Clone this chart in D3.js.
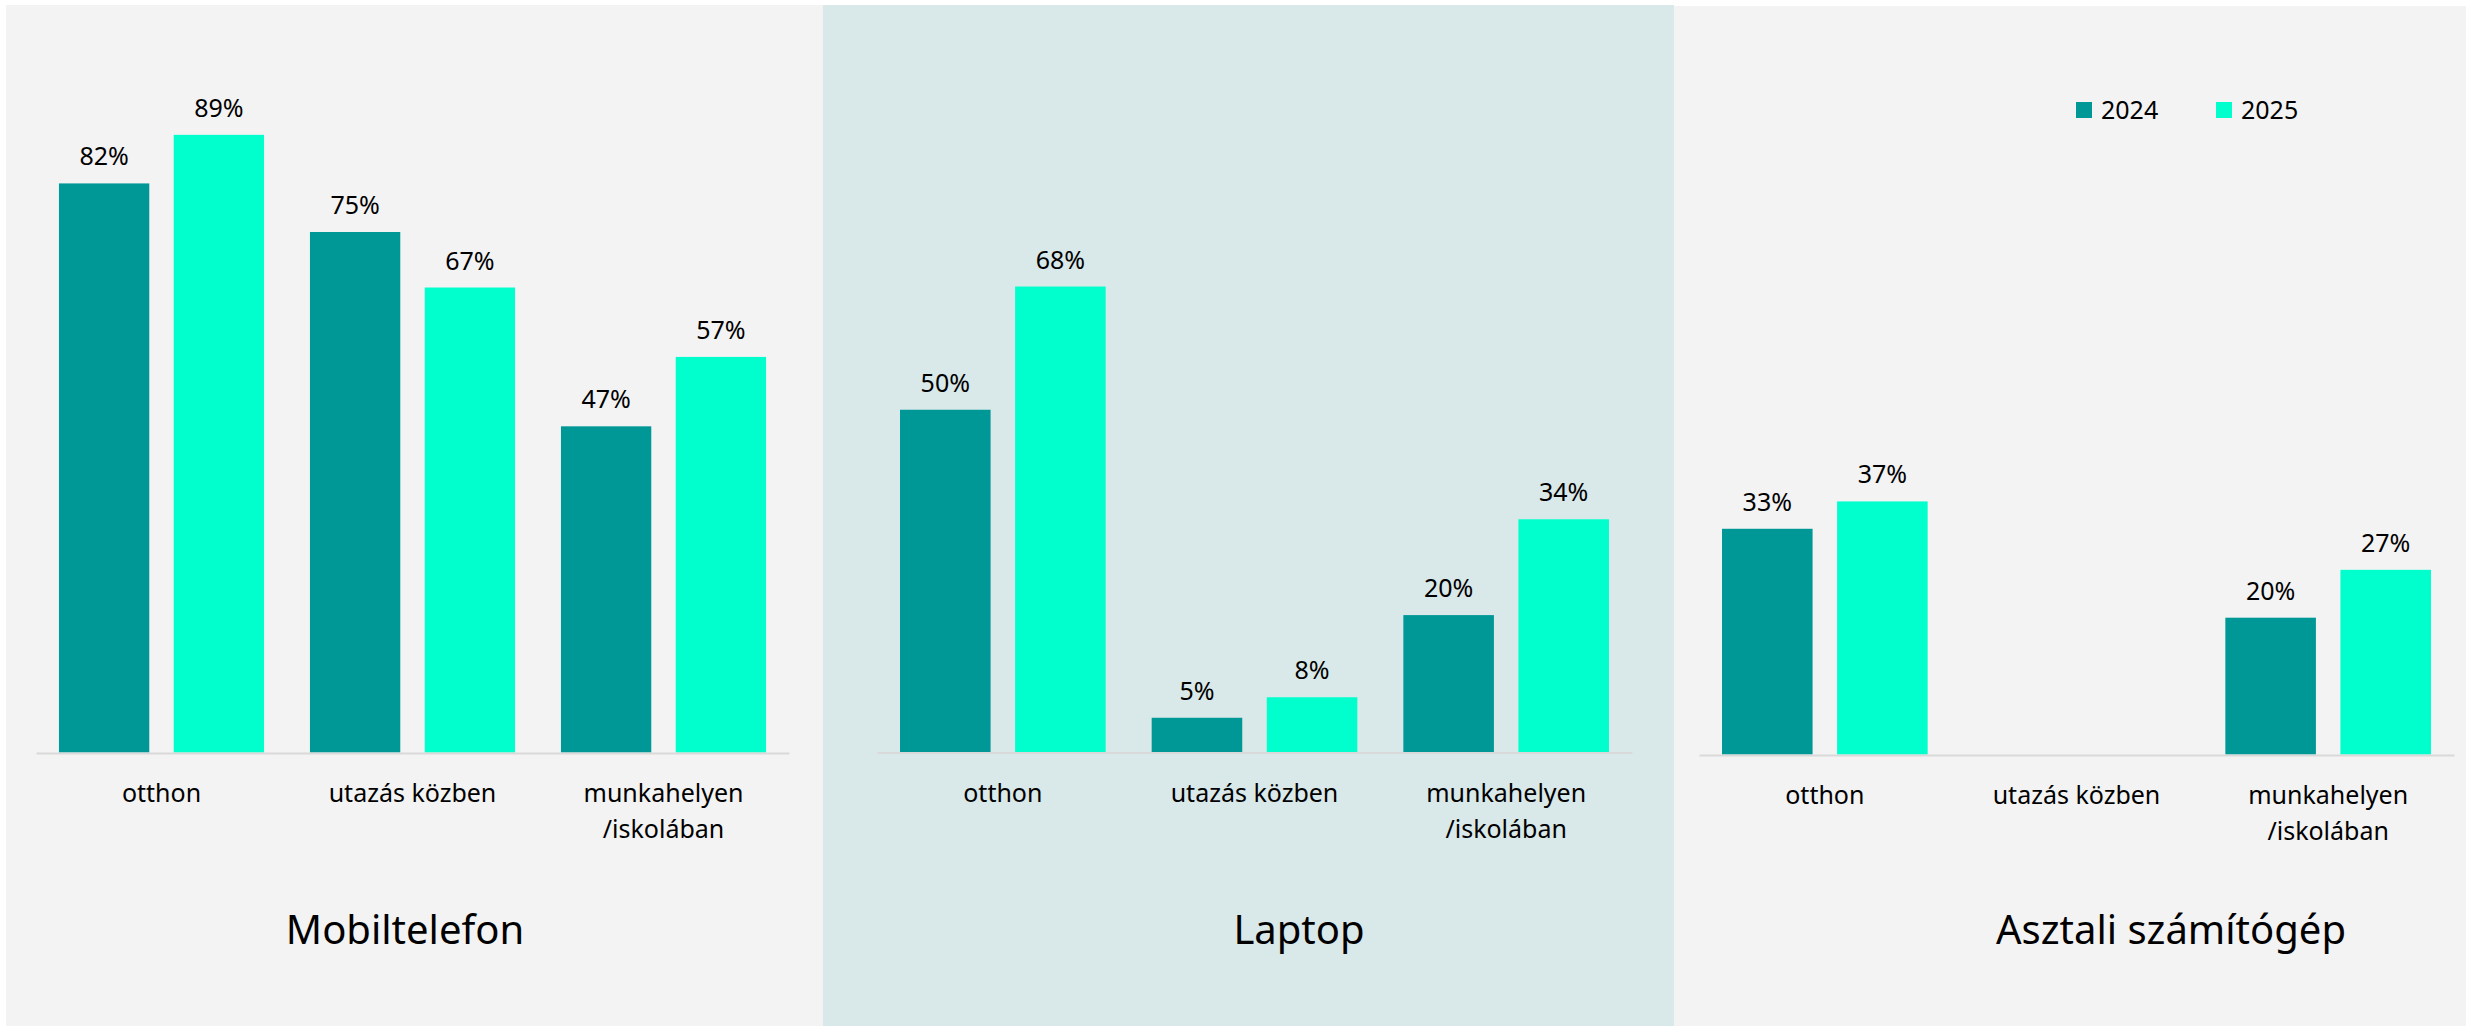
<!DOCTYPE html>
<html>
<head>
<meta charset="utf-8">
<script src="https://cdn.jsdelivr.net/npm/d3@7"></script>
<style>
  body { margin: 0; background: #fff; }
  svg { display: block; font-family: "Segoe UI", "Noto Sans", "Open Sans", sans-serif; }
</style>
</head>
<body>
<div id="chart"></div>
<script>
// data
var devices = ["Mobiltelefon", "Laptop", "Asztali számítógép"];
var categories = ["otthon", "utazás közben", "munkahelyen\n/iskolában"];
var years = ["2024", "2025"];
// per device: [otthon, utazás közben, munkahelyen/iskolában]
var values2024 = [[82, 75, 47], [50, 5, 20], [33, null, 20]];
var values2025 = [[89, 67, 57], [68, 8, 34], [37, null, 27]];

var colors = { "2024": "#009797", "2025": "#00ffcc" };

// layout of the three panels (pixels)
var panels = [
  { x: 6,    y: 5, w: 817, bg: "#f3f3f3", ax0: 36,   ax1: 789,  base: 752.5, top: 58.5, titleX: 405 },
  { x: 823,  y: 5, w: 851, bg: "#d9e8e8", ax0: 877,  ax1: 1632, base: 752,   top: 67.5, titleX: 1299 },
  { x: 1674, y: 6, w: 792, bg: "#f3f3f3", ax0: 1699, ax1: 2454, base: 754.5, top: 70.5, titleX: 2171 }
];

var W = 2466, H = 1026;
var svg = d3.select("#chart").append("svg").attr("width", W).attr("height", H);

panels.forEach(function(p, i) {
  svg.append("rect")
    .attr("x", p.x).attr("y", p.y)
    .attr("width", p.w).attr("height", H - p.y)
    .attr("fill", p.bg);

  var x0 = d3.scaleBand().domain(categories).range([p.ax0, p.ax1]).padding(0);
  var x1 = d3.scaleBand().domain(years).range([0, x0.bandwidth()])
    .paddingInner(0.213).paddingOuter(0.2);
  var y = d3.scaleLinear().domain([0, 100]).range([p.base, p.top]);

  var rows = [];
  categories.forEach(function(c, j) {
    rows.push({ cat: c, year: "2024", v: values2024[i][j] });
    rows.push({ cat: c, year: "2025", v: values2025[i][j] });
  });
  rows = rows.filter(function(d) { return d.v != null; });

  var g = svg.append("g");

  g.selectAll("rect.bar").data(rows).enter().append("rect")
    .attr("class", "bar")
    .attr("x", function(d) { return x0(d.cat) + x1(d.year); })
    .attr("width", x1.bandwidth())
    .attr("y", function(d) { return y(d.v); })
    .attr("height", function(d) { return y(0) - y(d.v); })
    .attr("fill", function(d) { return colors[d.year]; });

  g.selectAll("text.val").data(rows).enter().append("text")
    .attr("class", "val")
    .attr("x", function(d) { return x0(d.cat) + x1(d.year) + x1.bandwidth() / 2; })
    .attr("y", function(d) { return y(d.v) - 18; })
    .attr("text-anchor", "middle")
    .attr("font-size", 25)
    .attr("fill", "#000")
    .text(function(d) { return d.v + "%"; });

  // x axis
  var axis = g.append("g")
    .attr("transform", "translate(0," + (p.base + 0.5) + ")")
    .call(d3.axisBottom(x0).tickSize(0).tickSizeOuter(0))
    .attr("font-family", null)
    .attr("font-size", 25);
  axis.select(".domain").attr("stroke", "#d9d9d9").attr("stroke-width", 2);
  axis.selectAll(".tick text").each(function(d) {
    var t = d3.select(this);
    t.text(null).attr("y", 0).attr("dy", null).attr("fill", "#000");
    d.split("\n").forEach(function(line, k) {
      t.append("tspan").attr("x", 0).attr("y", 49 + k * 36).text(line);
    });
  });

  // panel title
  g.append("text")
    .attr("x", p.titleX).attr("y", 944)
    .attr("text-anchor", "middle")
    .attr("font-size", 40)
    .attr("fill", "#000")
    .text(devices[i]);
});

// legend
var legendX = [2076, 2216];
var legend = svg.append("g");
years.forEach(function(yr, k) {
  legend.append("rect")
    .attr("x", legendX[k]).attr("y", 102)
    .attr("width", 16).attr("height", 16)
    .attr("fill", colors[yr]);
  legend.append("text")
    .attr("x", legendX[k] + 25).attr("y", 119)
    .attr("font-size", 25).attr("fill", "#000")
    .text(yr);
});
</script>
</body>
</html>
